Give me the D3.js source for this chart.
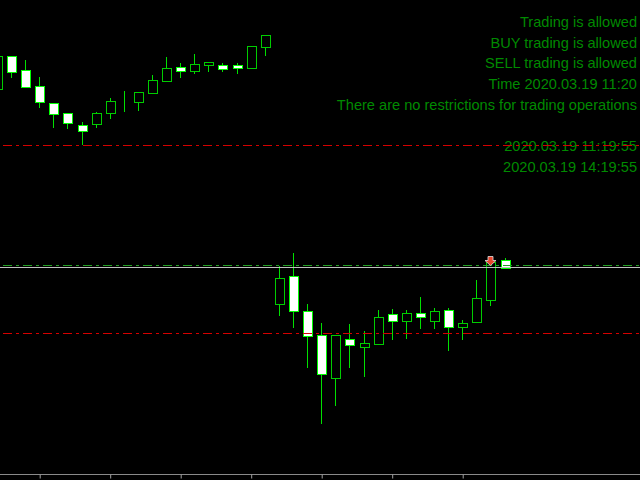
<!DOCTYPE html>
<html>
<head>
<meta charset="utf-8">
<script src="https://cdn.jsdelivr.net/npm/d3@7"></script>
<style>
html,body{margin:0;padding:0;background:#000;overflow:hidden;}
svg{display:block;}
</style>
</head>
<body>
<svg id="chart" width="640" height="480"></svg>
<script>
// ---- data (prices) ----
const openP  = [1.0911,1.0944,1.0930,1.0914,1.0897,1.0887,1.0875,1.0876,1.0887,1.0899,1.0898,1.0907,1.0919,1.0933,1.0929,1.0935,1.0935,1.0935,1.0932,1.0953,
                1.0696,1.0724,1.0689,1.0665,1.0622,1.0661,1.0653,1.0656,1.0686,1.0679,1.0687,1.0679,1.0690,1.0673,1.0678,1.0700,1.0740];
const highP  = [1.0944,1.0944,1.0940,1.0923,1.0897,1.0887,1.0878,1.0888,1.0902,1.0909,1.0908,1.0925,1.0943,1.0937,1.0946,1.0938,1.0937,1.0937,1.0954,1.0965,
                1.0734,1.0747,1.0696,1.0677,1.0665,1.0676,1.0669,1.0690,1.0691,1.0690,1.0703,1.0692,1.0692,1.0680,1.0720,1.0738,1.0742];
const lowP   = [1.0911,1.0923,1.0913,1.0893,1.0873,1.0872,1.0856,1.0873,1.0882,1.0889,1.0890,1.0907,1.0919,1.0923,1.0927,1.0929,1.0929,1.0927,1.0932,1.0945,
                1.0685,1.0673,1.0633,1.0577,1.0595,1.0633,1.0624,1.0656,1.0661,1.0662,1.0672,1.0672,1.0650,1.0661,1.0678,1.0695,1.0732];
const closeP = [1.0944,1.0928,1.0913,1.0898,1.0886,1.0877,1.0869,1.0887,1.0899,1.0899,1.0908,1.0920,1.0932,1.0929,1.0936,1.0938,1.0931,1.0932,1.0954,1.0965,
                1.0722,1.0689,1.0664,1.0626,1.0665,1.0655,1.0657,1.0683,1.0679,1.0687,1.0683,1.0689,1.0673,1.0677,1.0702,1.0738,1.0732];

const redLevels   = [1.08545, 1.06667];
const greenLevels = [1.07345];
const bidLevels   = [1.07325];
const sellArrows  = [{index: 35, price: 1.07345}];
const tickIndices = [3, 8, 13, 18, 23, 28, 33];

const infoLines = [
  "Trading is allowed",
  "BUY trading is allowed",
  "SELL trading is allowed",
  "Time 2020.03.19 11:20",
  "There are no restrictions for trading operations",
  "",
  "2020.03.19 11:19:55",
  "2020.03.19 14:19:55"
];

// ---- chart ----
const W = 640, H = 480;
const svg = d3.select("#chart");
svg.append("rect").attr("width", W).attr("height", H).attr("fill", "#000");

const x = d3.scaleLinear().domain([0, 36]).range([-3.1, 504.5]);
const y = d3.scaleLinear().domain([1.1, 1.0525]).range([0, 475]);

const candles = openP.map((o, i) => ({i, o, h: highP[i], l: lowP[i], c: closeP[i]}));

// info text
const txt = svg.append("g")
  .attr("font-family", "'Liberation Sans', Arial, sans-serif")
  .attr("font-size", "14.6px")
  .attr("fill", "#008a00")
  .attr("text-anchor", "end");
txt.selectAll("text").data(infoLines).join("text")
  .attr("x", 637)
  .attr("y", (d, k) => 27 + k * 20.7)
  .text(d => d);

// axis
const axisG = svg.append("g").attr("transform", "translate(0,474.5)");
const axis = d3.axisBottom(x).tickValues(tickIndices).tickSize(4).tickFormat("");
axisG.call(axis);
axisG.select(".domain").attr("d", "M0,0H640").attr("stroke", "#8a8a8a");
axisG.selectAll(".tick line").attr("stroke", "#a0a0a0")
  .attr("transform", "translate(0.5,0)");

// candles
const cg = svg.append("g").attr("shape-rendering", "crispEdges");
const px = d => Math.round(x(d.i));
cg.selectAll("line.wick").data(candles).join("line")
  .attr("class", "wick")
  .attr("x1", d => px(d) + 0.5).attr("x2", d => px(d) + 0.5)
  .attr("y1", d => Math.round(y(d.h))).attr("y2", d => Math.round(y(d.l)) + 1)
  .attr("stroke", "#00e000").attr("stroke-width", 1);
cg.selectAll("rect.body").data(candles).join("rect")
  .attr("class", "body")
  .attr("x", d => px(d) - 4 + 0.5)
  .attr("y", d => Math.round(y(Math.max(d.o, d.c))) + 0.5)
  .attr("width", 9)
  .attr("height", d => Math.max(0, Math.round(y(Math.min(d.o, d.c))) - Math.round(y(Math.max(d.o, d.c)))))
  .attr("fill", d => d.c < d.o ? "#ffffff" : "#000000")
  .attr("stroke", d => d.c < d.o ? "#00ff00" : "#00cc00")
  .attr("stroke-width", 1);

// horizontal levels
const lg = svg.append("g").attr("shape-rendering", "crispEdges");
lg.selectAll("line.red").data(redLevels).join("line")
  .attr("x1", 3).attr("x2", W)
  .attr("y1", d => Math.floor(y(d)) + 0.5).attr("y2", d => Math.floor(y(d)) + 0.5)
  .attr("stroke", "#d40000").attr("stroke-dasharray", "9,4,3,4");
lg.selectAll("line.green").data(greenLevels).join("line")
  .attr("x1", 3).attr("x2", W)
  .attr("y1", d => Math.floor(y(d)) + 0.5).attr("y2", d => Math.floor(y(d)) + 0.5)
  .attr("stroke", "#22a022").attr("stroke-dasharray", "9,4,3,4");
lg.selectAll("line.bid").data(bidLevels).join("line")
  .attr("x1", 0).attr("x2", W)
  .attr("y1", d => Math.floor(y(d)) + 0.5).attr("y2", d => Math.floor(y(d)) + 0.5)
  .attr("stroke", "#c0c0c0");

// sell arrows
svg.selectAll("path.arrow").data(sellArrows).join("path")
  .attr("d", d => {
    const cx = Math.round(x(d.index)) + 0.5, ty = y(d.price);
    return `M${cx - 2.5},${ty - 9} L${cx + 2.5},${ty - 9} L${cx + 2.5},${ty - 5} L${cx + 5.5},${ty - 5} L${cx},${ty} L${cx - 5.5},${ty - 5} L${cx - 2.5},${ty - 5} Z`;
  })
  .attr("fill", "#e8452c")
  .attr("stroke", "#e0e0e0")
  .attr("stroke-width", 0.8);
</script>
</body>
</html>
